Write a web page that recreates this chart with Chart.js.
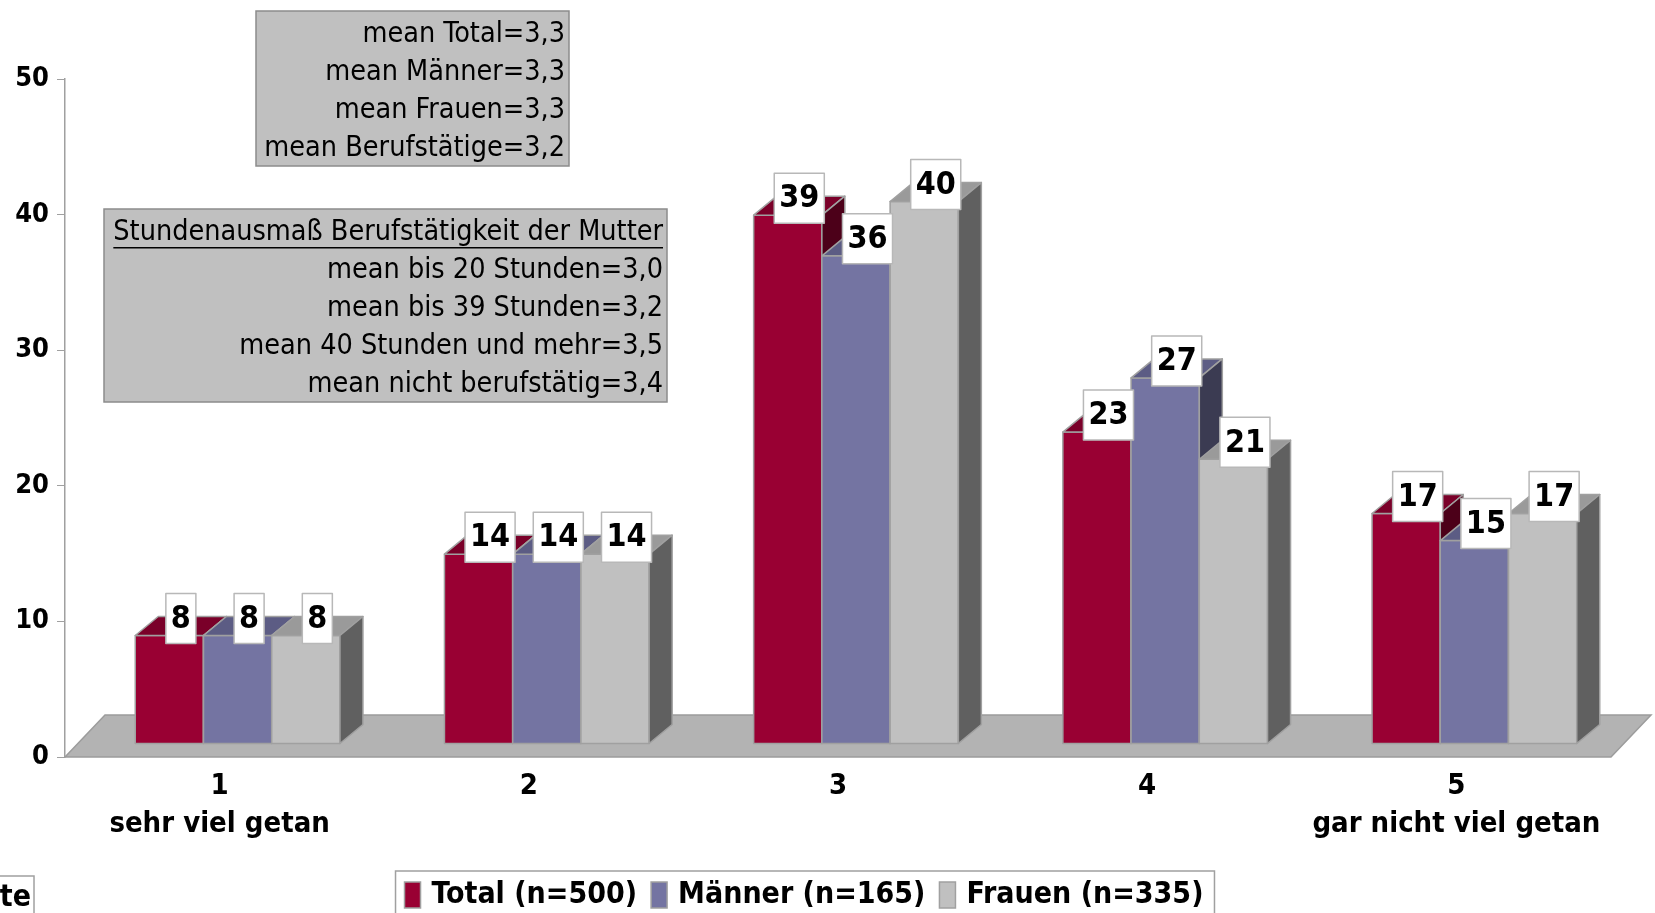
<!DOCTYPE html>
<html>
<head>
<meta charset="utf-8">
<script src="https://cdn.jsdelivr.net/npm/chart.js@4"></script>
<style>
  html, body { margin: 0; padding: 0; background: #fff; }
  #chart { display: block; }
</style>
</head>
<body>
<canvas id="chart" width="1655" height="913"></canvas>
<script>
// Daten
const categories = ['1', '2', '3', '4', '5'];
const categoryNotes = ['sehr viel getan', '', '', '', 'gar nicht viel getan'];
const seriesNames = ['Total (n=500)', 'Männer (n=165)', 'Frauen (n=335)'];
const totalValues = [8, 14, 39, 23, 17];
const maennerValues = [8, 14, 36, 27, 15];
const frauenValues = [8, 14, 40, 21, 17];
const yTicks = [0, 10, 20, 30, 40, 50];
const meanLines = ['mean Total=3,3', 'mean Männer=3,3', 'mean Frauen=3,3', 'mean Berufstätige=3,2'];
const hoursTitle = 'Stundenausmaß Berufstätigkeit der Mutter';
const hoursLines = ['mean bis 20 Stunden=3,0', 'mean bis 39 Stunden=3,2', 'mean 40 Stunden und mehr=3,5', 'mean nicht berufstätig=3,4'];
const cutLabel = 'te';

const FONT = "'DejaVu Sans Condensed', 'Liberation Sans Narrow', sans-serif";

// Farben: Vorderseite, Deckfläche, Seitenfläche
const faceColors = [
    { front: '#990033', top: '#7a0029', side: '#4c0019' },
    { front: '#7474a2', top: '#5c5c84', side: '#3b3b52' },
    { front: '#c0c0c0', top: '#9a9a9a', side: '#606060' }
];

const barDepth = { dx: 23, dy: -19 };
const floorDepth = { dx: 40, dy: -42 };
const barShift = { dx: 18, dy: -13 };
const edgeColor = '#a0a0a0';

/**
 * 3D-Effekt: Boden, Quader, Wertelabels, Textboxen, Legende
 */
const threeD = {
    id: 'threeD',
    beforeDatasetsDraw(chart) {
        const ctx = chart.ctx;
        const area = chart.chartArea;
        const y0 = chart.scales.y.getPixelForValue(0);

        // Boden
        ctx.save();
        ctx.beginPath();
        ctx.moveTo(area.left, y0);
        ctx.lineTo(area.left + floorDepth.dx, y0 + floorDepth.dy);
        ctx.lineTo(area.right + floorDepth.dx, y0 + floorDepth.dy);
        ctx.lineTo(area.right, y0);
        ctx.closePath();
        ctx.fillStyle = '#b3b3b3';
        ctx.fill();
        ctx.strokeStyle = '#9c9c9c';
        ctx.lineWidth = 1.5;
        ctx.stroke();
        ctx.restore();
    },
    afterDatasetsDraw(chart) {
        const ctx = chart.ctx;
        ctx.save();
        ctx.translate(barShift.dx, barShift.dy);

        // Quader von links nach rechts, damit rechte Nachbarn die Seitenflächen verdecken
        chart.data.datasets.forEach((ds, i) => {
            const c = faceColors[i];
            chart.getDatasetMeta(i).data.forEach(bar => {
                const p = bar.getProps(['x', 'y', 'base', 'width'], true);
                const l = p.x - p.width / 2;
                const r = p.x + p.width / 2;
                ctx.strokeStyle = edgeColor;
                ctx.lineWidth = 1.5;
                ctx.lineJoin = 'round';
                // Vorderseite
                ctx.fillStyle = c.front;
                ctx.fillRect(l, p.y, p.width, p.base - p.y);
                ctx.strokeRect(l, p.y, p.width, p.base - p.y);
                // Deckfläche
                ctx.beginPath();
                ctx.moveTo(l, p.y);
                ctx.lineTo(l + barDepth.dx, p.y + barDepth.dy);
                ctx.lineTo(r + barDepth.dx, p.y + barDepth.dy);
                ctx.lineTo(r, p.y);
                ctx.closePath();
                ctx.fillStyle = c.top;
                ctx.fill();
                ctx.stroke();
                // Seitenfläche
                ctx.beginPath();
                ctx.moveTo(r, p.y);
                ctx.lineTo(r + barDepth.dx, p.y + barDepth.dy);
                ctx.lineTo(r + barDepth.dx, p.base + barDepth.dy);
                ctx.lineTo(r, p.base);
                ctx.closePath();
                ctx.fillStyle = c.side;
                ctx.fill();
                ctx.stroke();
            });
        });

        // Wertelabels
        ctx.font = 'bold 32px ' + FONT;
        ctx.textAlign = 'center';
        ctx.textBaseline = 'middle';
        chart.data.datasets.forEach((ds, i) => {
            chart.getDatasetMeta(i).data.forEach((bar, j) => {
                const txt = String(ds.data[j]);
                const cx = bar.x + barDepth.dx / 2;
                const cy = bar.y + barDepth.dy + 2;
                const w = ctx.measureText(txt).width + 10;
                const h = 50;
                ctx.fillStyle = '#ffffff';
                ctx.fillRect(cx - w / 2, cy - h / 2, w, h);
                ctx.strokeStyle = '#b8b8b8';
                ctx.lineWidth = 1.5;
                ctx.strokeRect(cx - w / 2, cy - h / 2, w, h);
                ctx.fillStyle = '#000';
                ctx.fillText(txt, cx, cy + 1);
            });
        });
        ctx.restore();
    },
    afterDraw(chart) {
        const ctx = chart.ctx;
        ctx.save();

        // Textbox Mittelwerte
        drawTextBox(ctx, 256, 11, 313, 155, meanLines, null, 35, 38);
        // Textbox Stundenausmaß
        drawTextBox(ctx, 104, 209, 563, 193, hoursLines, hoursTitle, 233, 38);

        // Legende
        ctx.font = 'bold 30px ' + FONT;
        ctx.textBaseline = 'middle';
        ctx.textAlign = 'left';
        const markerW = 16, markerH = 26, gapText = 11, gapItem = 14;
        let total = 0;
        seriesNames.forEach((n, i) => {
            total += markerW + gapText + ctx.measureText(n).width;
            if (i < seriesNames.length - 1) total += gapItem;
        });
        const padL = 9, padR = 11;
        const boxW = total + padL + padR;
        const boxL = 805 - boxW / 2;
        const boxT = 871;
        ctx.fillStyle = '#fff';
        ctx.fillRect(boxL, boxT, boxW, 60);
        ctx.strokeStyle = edgeColor;
        ctx.lineWidth = 1.5;
        ctx.strokeRect(boxL, boxT, boxW, 60);
        let x = boxL + padL;
        const cy = 895;
        seriesNames.forEach((n, i) => {
            ctx.fillStyle = faceColors[i].front;
            ctx.fillRect(x, cy - markerH / 2, markerW, markerH);
            ctx.strokeStyle = edgeColor;
            ctx.strokeRect(x, cy - markerH / 2, markerW, markerH);
            x += markerW + gapText;
            ctx.fillStyle = '#000';
            ctx.fillText(n, x, cy);
            x += ctx.measureText(n).width + gapItem;
        });

        // abgeschnittene Box links unten
        ctx.fillStyle = '#fff';
        ctx.fillRect(-10, 876, 44, 60);
        ctx.strokeStyle = edgeColor;
        ctx.strokeRect(-10, 876, 44, 60);
        ctx.fillStyle = '#000';
        ctx.textAlign = 'right';
        ctx.fillText(cutLabel, 31, 898);

        ctx.restore();
    }
};

function drawTextBox(ctx, x, y, w, h, lines, title, firstY, lineH) {
    ctx.fillStyle = '#c0c0c0';
    ctx.fillRect(x, y, w, h);
    ctx.strokeStyle = '#8c8c8c';
    ctx.lineWidth = 1.5;
    ctx.strokeRect(x, y, w, h);
    ctx.font = '28.5px ' + FONT;
    ctx.fillStyle = '#000';
    ctx.textAlign = 'right';
    ctx.textBaseline = 'middle';
    const right = x + w - 4;
    let ly = firstY;
    if (title) {
        ctx.fillText(title, right, ly);
        const tw = ctx.measureText(title).width;
        ctx.fillRect(right - tw, ly + 14, tw, 1.5);
        ly += lineH;
    }
    lines.forEach(t => {
        ctx.fillText(t, right, ly);
        ly += lineH;
    });
}

const ctx = document.getElementById('chart');

new Chart(ctx, {
    type: 'bar',
    data: {
        labels: categories.map((c, i) => categoryNotes[i] ? [c, categoryNotes[i]] : c),
        datasets: [
            { label: seriesNames[0], data: totalValues },
            { label: seriesNames[1], data: maennerValues },
            { label: seriesNames[2], data: frauenValues }
        ].map((ds, i) => Object.assign(ds, {
            // Vorderseiten werden im Plugin gezeichnet (mit Versatz und Tiefe)
            backgroundColor: 'rgba(0,0,0,0)',
            borderWidth: 0,
            categoryPercentage: 0.662,
            barPercentage: 1,
            clip: false
        }))
    },
    options: {
        responsive: false,
        animation: false,
        events: [],
        layout: {
            padding: { top: 79, right: 44, bottom: 0, left: 0 }
        },
        plugins: {
            legend: { display: false },
            tooltip: { enabled: false }
        },
        scales: {
            y: {
                min: 0,
                max: 50,
                afterBuildTicks: scale => {
                    scale.ticks = yTicks.map(v => ({ value: v }));
                },
                afterFit: scale => { scale.width = 65; },
                ticks: {
                    color: '#000',
                    padding: 8,
                    font: { family: FONT, size: 27, weight: 'bold' }
                },
                grid: {
                    drawOnChartArea: false,
                    tickLength: 8,
                    color: edgeColor
                },
                border: { color: edgeColor, width: 1.5 }
            },
            x: {
                afterFit: scale => { scale.height = 156; },
                ticks: {
                    color: '#000',
                    padding: 10,
                    maxRotation: 0,
                    font: { family: FONT, size: 29, weight: 'bold', lineHeight: 1.31 }
                },
                grid: { display: false, drawTicks: false },
                border: { display: false }
            }
        }
    },
    plugins: [threeD]
});
</script>
</body>
</html>
